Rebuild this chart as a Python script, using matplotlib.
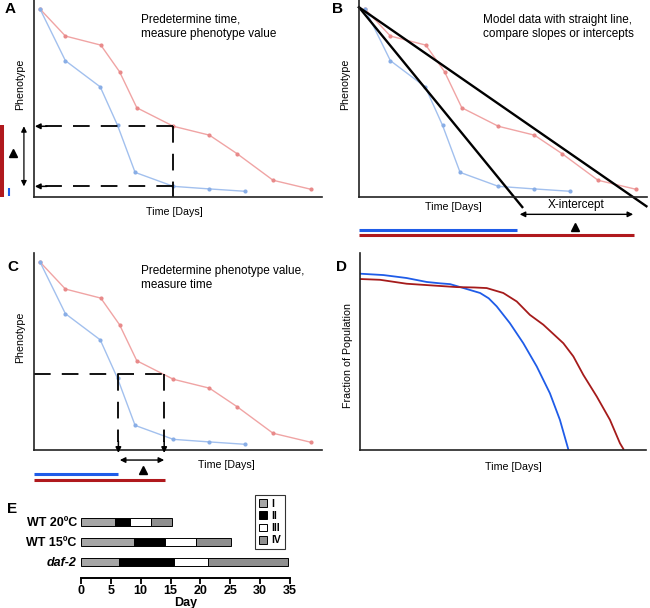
import matplotlib
matplotlib.use('Agg')
import matplotlib.pyplot as plt
from matplotlib.patches import Patch

plt.rcParams['font.family'] = ['Liberation Sans', 'DejaVu Sans']
plt.rcParams['lines.scale_dashes'] = False

# ---------------- data ----------------
red_t = [2.1, 10.9, 23.2, 29.7, 35.7, 48.4, 60.9, 70.5, 83.0, 96.2]
red_y = [95.4, 81.7, 77.1, 63.6, 45.3, 35.9, 31.4, 22.0, 8.5, 3.9]
blue_t = [2.1, 10.9, 23.0, 29.0, 35.1, 48.4, 60.9, 73.3]
blue_y = [95.4, 69.2, 55.9, 36.4, 12.5, 5.4, 4.1, 2.9]

# fitted straight lines (panel B): start and x-intercept end
fit_blue = ([0.0, 56.7], [96.3, -5.1])
fit_red = ([0.0, 99.8], [96.3, -4.7])

# threshold for panel C
thresh_y = 38.6
thresh_t = [29.3, 45.2]

# survival curves (panel D)
surv_blue_t = [0, 8.2, 16.3, 23.3, 28.0, 31.5, 36.2, 42.0, 45.0, 47.8, 52.4, 57.1, 61.8, 66.4, 69.9, 72.8]
surv_blue_y = [89.5, 88.8, 87.3, 85.3, 84.6, 84.2, 82.2, 79.7, 77.0, 72.9, 64.4, 54.2, 42.4, 28.8, 15.3, 0.5]
surv_red_t = [0, 7.0, 16.3, 24.5, 33.8, 40.0, 44.3, 50.1, 54.8, 59.4, 64.1, 71.1, 74.6, 78.1, 82.8, 87.4, 90.9, 92.1]
surv_red_y = [86.8, 86.4, 84.4, 83.6, 82.7, 82.5, 82.2, 79.7, 75.4, 68.6, 63.6, 54.2, 47.5, 38.1, 27.1, 15.3, 3.4, 0.5]

# panel E
strains = ['WT 20ºC', 'WT 15ºC', 'daf-2']
stages = ['I', 'II', 'III', 'IV']
durations = {
    'WT 20ºC': [5.7, 2.5, 3.5, 3.5],
    'WT 15ºC': [8.9, 5.2, 5.2, 5.8],
    'daf-2': [6.3, 9.3, 5.6, 13.5],
}
stage_colors = ['#a6a6a6', '#000000', '#ffffff', '#8f8f8f']
day_ticks = [0, 5, 10, 15, 20, 25, 30, 35]

# ---------------- figure ----------------
W, H = 650, 608
fig = plt.figure(figsize=(6.5, 6.08), dpi=100)


def ax_px(l, t, r, b):
    return fig.add_axes([l / W, 1 - b / H, (r - l) / W, (b - t) / H])


RED_L = '#f0a4a4'
BLUE_L = '#a2c0ee'
RED_D = '#b0191d'
BLUE_D = '#1f5ce8'
DASH = (0, (12, 8))
FS = 8.5
FL = 7.7


def style(ax):
    ax.set_xlim(0, 100)
    ax.set_ylim(0, 100)
    for s in ['top', 'right']:
        ax.spines[s].set_visible(False)
    for s in ['left', 'bottom']:
        ax.spines[s].set_linewidth(1.2)
        ax.spines[s].set_color('#222222')
    ax.set_xticks([])
    ax.set_yticks([])


def data(ax):
    ax.plot(red_t, red_y, '-', color=RED_L, lw=1.0)
    ax.plot(red_t, red_y, 'o', color='#e88a8a', ms=3, mec='none')
    ax.plot(blue_t, blue_y, '-', color=BLUE_L, lw=1.0)
    ax.plot(blue_t, blue_y, 'o', color='#89aee6', ms=3, mec='none')


def arrow(ax, xy, xytext, style='-|>', lw=1.1):
    ax.annotate('', xy=xy, xytext=xytext, annotation_clip=False,
                arrowprops=dict(arrowstyle=style, color='k', lw=lw,
                                mutation_scale=8, shrinkA=0, shrinkB=0))


# ----- Panel A -----
axA = ax_px(34, 0, 322, 197)
style(axA)
data(axA)
i = 5
axA.plot([red_t[i], red_t[i]], [red_y[i], 0], color='k', ls=DASH, lw=1.3)
axA.plot([red_t[i], 3], [red_y[i], red_y[i]], color='k', ls=DASH, lw=1.3)
axA.plot([red_t[i], 3], [blue_y[i], blue_y[i]], color='k', ls=DASH, lw=1.3)
arrow(axA, (0.3, red_y[i]), (4.5, red_y[i]))
arrow(axA, (0.3, blue_y[i]), (4.5, blue_y[i]))
arrow(axA, (-3.5, blue_y[i]), (-3.5, red_y[i]), style='<|-|>', lw=0.9)
axA.plot([-7.3], [22.4], marker='^', color='k', ms=6, clip_on=False)
axA.plot([-11.1, -11.1], [0, red_y[i] + 0.7], color=RED_D, lw=2.9, clip_on=False,
         solid_capstyle='butt')
axA.plot([-8.7, -8.7], [0.5, 4.6], color=BLUE_D, lw=1.5, clip_on=False,
         solid_capstyle='butt')
axA.text(37.2, 93, 'Predetermine time,\nmeasure phenotype value', fontsize=FS,
         va='top', ha='left')
axA.text(48.6, -7.6, 'Time [Days]', fontsize=FL, ha='center', va='center')
axA.set_ylabel('Phenotype', fontsize=FL)
axA.yaxis.set_label_coords(-0.03, 0.57)

# ----- Panel B -----
axB = ax_px(359, 0, 647, 197)
style(axB)
data(axB)
axB.plot(fit_blue[0], fit_blue[1], color='k', lw=1.7, clip_on=False)
axB.plot(fit_red[0], fit_red[1], color='k', lw=1.7, clip_on=False)
arrow(axB, (55.8, -8.8), (95.2, -8.8), style='<|-|>', lw=1.0)
axB.text(75.5, -4.0, 'X-intercept', fontsize=FS, ha='center', va='center')
axB.plot([75], [-15.3], marker='^', color='k', ms=6, clip_on=False)
axB.plot([0, 54.8], [-16.6, -16.6], color=BLUE_D, lw=2.2, clip_on=False,
         solid_capstyle='butt')
axB.plot([0, 95.4], [-19.5, -19.5], color=RED_D, lw=2.2, clip_on=False,
         solid_capstyle='butt')
axB.text(43, 93, 'Model data with straight line,\ncompare slopes or intercepts',
         fontsize=FS, va='top', ha='left')
axB.text(32.9, -5.3, 'Time [Days]', fontsize=FL, ha='center', va='center')
axB.set_ylabel('Phenotype', fontsize=FL)
axB.yaxis.set_label_coords(-0.03, 0.57)

# ----- Panel C -----
axC = ax_px(34, 253, 322, 450)
style(axC)
data(axC)
axC.plot([0, thresh_t[1]], [thresh_y, thresh_y], color='k', ls=DASH, lw=1.3)
for t in thresh_t:
    axC.plot([t, t], [thresh_y, 4], color='k', ls=DASH, lw=1.3)
    arrow(axC, (t, -1.5), (t, 4.5))
arrow(axC, (thresh_t[0] + 0.5, -5.1), (thresh_t[1], -5.1), style='<|-|>', lw=1.0)
axC.plot([38], [-10.2], marker='^', color='k', ms=6, clip_on=False)
axC.plot([0, thresh_t[0]], [-12.2, -12.2], color=BLUE_D, lw=2.2, clip_on=False,
         solid_capstyle='butt')
axC.plot([0, thresh_t[1] + 0.2], [-15.3, -15.3], color=RED_D, lw=2.2, clip_on=False,
         solid_capstyle='butt')
axC.text(37.2, 94, 'Predetermine phenotype value,\nmeasure time', fontsize=FS,
         va='top', ha='left')
axC.text(66.7, -7.6, 'Time [Days]', fontsize=FL, ha='center', va='center')
axC.set_ylabel('Phenotype', fontsize=FL)
axC.yaxis.set_label_coords(-0.03, 0.57)

# ----- Panel D -----
axD = ax_px(360, 253, 646, 450)
style(axD)
axD.plot(surv_blue_t, surv_blue_y, color=BLUE_D, lw=1.3)
axD.plot(surv_red_t, surv_red_y, color='#a51b1b', lw=1.3)
axD.text(53.5, -8.6, 'Time [Days]', fontsize=FL, ha='center', va='center')
axD.set_ylabel('Fraction of Population', fontsize=FL)
axD.yaxis.set_label_coords(-0.025, 0.48)

# ----- Panel E -----
axE = ax_px(81, 498, 290, 578)
ypos = [3, 2, 1]
for s, y in zip(strains, ypos):
    left = 0
    for d, c in zip(durations[s], stage_colors):
        axE.barh(y, d, left=left, height=0.36, color=c, edgecolor='k', lw=0.7)
        left += d
axE.set_xlim(0, 35)
axE.set_ylim(0.2, 4.2)
axE.set_xticks(day_ticks)
axE.set_xticklabels([str(d) for d in day_ticks], fontsize=9, fontweight='bold')
axE.set_yticks(ypos)
axE.set_yticklabels(strains, fontsize=9, fontweight='bold')
axE.get_yticklabels()[2].set_fontstyle('italic')
axE.tick_params(axis='y', length=0, pad=3)
axE.tick_params(axis='x', length=4, width=1.3, pad=1)
for s in ['top', 'right', 'left']:
    axE.spines[s].set_visible(False)
axE.spines['bottom'].set_linewidth(1.4)
axE.set_xlabel('Day', fontsize=9, fontweight='bold', labelpad=0)
handles = [Patch(facecolor=c, edgecolor='k', lw=0.7) for c in stage_colors]
leg = axE.legend(handles, stages, loc='upper right', bbox_to_anchor=(0.975, 1.04),
                 prop={'size': 7.5, 'weight': 'bold'}, frameon=True, fancybox=False,
                 edgecolor='k', handlelength=0.8, handleheight=0.8,
                 handletextpad=0.35, labelspacing=0.2, borderpad=0.4,
                 borderaxespad=0)
leg.get_frame().set_linewidth(0.8)

# ----- panel letters -----
for lab, x, y in [('A', 5, 2), ('B', 332, 2), ('C', 7, 260), ('D', 336, 260), ('E', 7, 502)]:
    fig.text(x / W, 1 - y / H, lab, fontsize=11, fontweight='bold', va='top', ha='left')

fig.savefig('out.png', dpi=100)
